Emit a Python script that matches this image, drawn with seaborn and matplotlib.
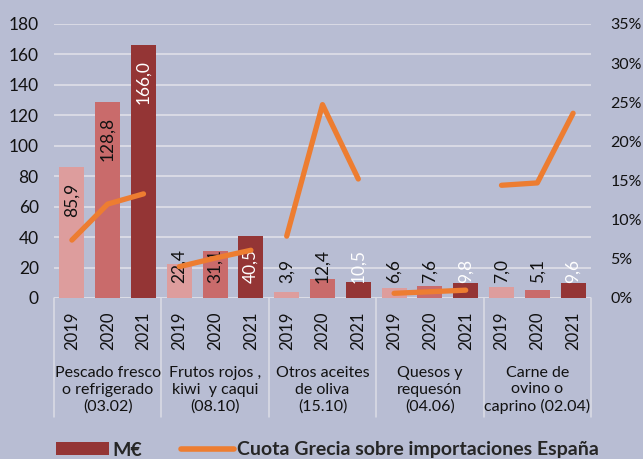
import matplotlib
matplotlib.use('Agg')
import matplotlib.pyplot as plt
import matplotlib.transforms as mtransforms
from matplotlib.patches import Patch
from matplotlib.lines import Line2D
import seaborn as sns
import pandas as pd
import numpy as np

# data
categories = ['Pescado fresco\no refrigerado\n(03.02)',
              'Frutos rojos ,\nkiwi  y caqui\n(08.10)',
              'Otros aceites\nde oliva\n(15.10)',
              'Quesos y\nrequesón\n(04.06)',
              'Carne de\novino o\ncaprino (02.04)']
years = ['2019', '2020', '2021']
val_2019 = [85.9, 22.4, 3.9, 6.6, 7.0]
val_2020 = [128.8, 31.1, 12.4, 7.6, 5.1]
val_2021 = [166.0, 40.5, 10.5, 9.8, 9.6]
share_2019 = [7.4, 4.0, 7.9, 0.6, 14.4]
share_2020 = [12.0, 5.1, 24.7, 0.8, 14.7]
share_2021 = [13.3, 6.1, 15.2, 1.0, 23.6]

values = {'2019': val_2019, '2020': val_2020, '2021': val_2021}
shares = [share_2019, share_2020, share_2021]

bg = '#b8bdd3'
grid_c = '#dcdde6'
bar_colors = ['#dd9d9d', '#c96b6b', '#943535']
orange = '#ed7d31'
label_colors = ['#111111', '#111111', 'white']

rows = []
for y in years:
    for c, v in zip(categories, values[y]):
        rows.append({'cat': c, 'year': y, 'value': v})
df = pd.DataFrame(rows)

sns.set_style('white', {'axes.facecolor': bg, 'figure.facecolor': bg})
plt.rcParams['font.family'] = ['Lato', 'DejaVu Sans']

fig = plt.figure(figsize=(6.43, 4.59), dpi=100)
ax = fig.add_axes([54 / 643, 1 - 298 / 459, (591 - 54) / 643, 274 / 459])

sns.barplot(data=df, x='cat', y='value', hue='year', order=categories,
            hue_order=years, palette=bar_colors, saturation=1, width=1.0,
            gap=0.3, errorbar=None, legend=False, ax=ax, zorder=2,
            edgecolor='none', linewidth=0)

ax.set_xlim(-0.5, len(categories) - 0.5)
ax.set_ylim(0, 180)
ax.set_yticks(np.arange(0, 181, 20))
ax.yaxis.grid(True, color=grid_c, lw=1.3, zorder=0)
ax.set_axisbelow(True)
ax.set_xticks([])
ax.set_xlabel('')
ax.set_ylabel('')
for s in ax.spines.values():
    s.set_visible(False)
ax.tick_params(axis='y', length=0, pad=11, labelsize=12.5, labelcolor='#111111')

# value labels inside / above the bars
for j, cont in enumerate(ax.containers):
    for bar, v in zip(cont, values[years[j]]):
        x = bar.get_x() + bar.get_width() / 2
        txt = f'{v:.1f}'.replace('.', ',')
        if v > 44:
            ax.text(x, v - 10, txt, rotation=90, ha='center', va='top',
                    fontsize=12.5, color=label_colors[j], zorder=3)
        else:
            ax.text(x, 10, txt, rotation=90, ha='center', va='bottom',
                    fontsize=12.5, color=label_colors[j], zorder=3)

# category axis drawn by hand
trans = mtransforms.blended_transform_factory(ax.transData, ax.transAxes)
ax.axhline(0, color=grid_c, lw=1.3, zorder=1)
for b in np.arange(-0.5, len(categories), 1.0):
    ax.axvline(b, ymin=-0.434, ymax=0, clip_on=False, color=grid_c, lw=1.1)
for i, c in enumerate(categories):
    for j, y in enumerate(years):
        ax.text(i + (j - 1) / 3, -0.05, y, rotation=90, ha='center', va='top',
                fontsize=12, color='#111111', transform=trans)
    ax.text(i, -0.336, c, ha='center', va='center', multialignment='center',
            fontsize=11.5, linespacing=1.25, color='#111111', transform=trans)

# share line on right axis, one segment per category
ax2 = ax.twinx()
for i in range(len(categories)):
    xs = [i - 1 / 3, i, i + 1 / 3]
    ys = [s[i] for s in shares]
    sns.lineplot(x=xs, y=ys, ax=ax2, color=orange, lw=3.8,
                 solid_capstyle='round', sort=False)
ax2.set_ylim(0, 35)
ax2.set_yticks(np.arange(0, 36, 5))
ax2.set_yticklabels([f'{t}%' for t in range(0, 36, 5)])
for s in ax2.spines.values():
    s.set_visible(False)
ax2.tick_params(axis='y', length=0, pad=14, labelsize=11.5, labelcolor='#111111')
ax2.set_ylabel('')

handles = [Patch(facecolor=bar_colors[2], edgecolor='none'),
           Line2D([0], [0], color=orange, lw=4, solid_capstyle='round')]
fig.legend(handles, ['M€', 'Cuota Grecia sobre importaciones España'],
           loc='center left', bbox_to_anchor=(56 / 643, 1 - 450 / 459),
           ncol=2, frameon=False, borderpad=0, borderaxespad=0,
           handlelength=2.7, handleheight=0.6, handletextpad=0.2,
           columnspacing=2.0, prop={'weight': 'bold', 'size': 14})

fig.savefig('out.png', dpi=100, facecolor=bg)
